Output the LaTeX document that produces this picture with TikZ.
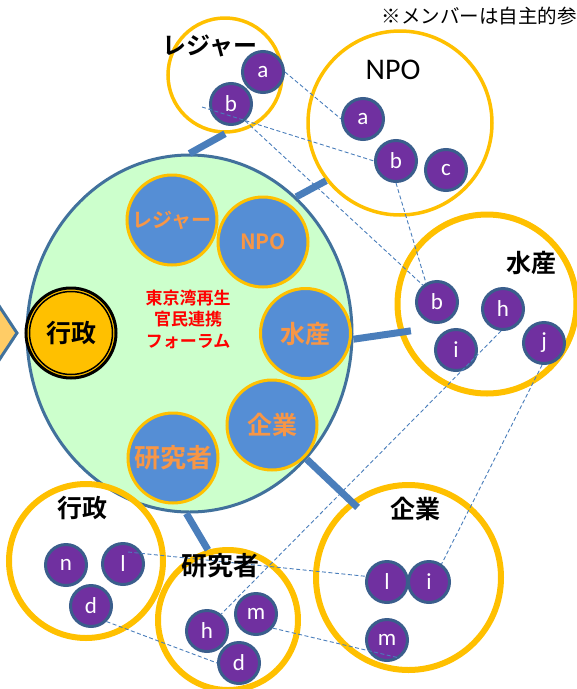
\documentclass[tikz,border=0pt]{standalone}
\usepackage{fontspec}
\setmainfont{Carlito}
\newfontfamily\jp{Noto Sans CJK JP}[BoldFont={Noto Sans CJK JP Bold}]
\usetikzlibrary{shapes.geometric}
\definecolor{ringc}{RGB}{255,192,0}
\definecolor{inblue}{RGB}{85,142,213}
\definecolor{inorange}{RGB}{247,150,70}
\definecolor{forumfill}{RGB}{204,255,204}
\definecolor{forumline}{RGB}{65,113,156}
\definecolor{barblue}{RGB}{74,126,187}
\definecolor{mempurple}{RGB}{112,48,160}
\definecolor{memline}{RGB}{58,94,140}
\definecolor{lightorange}{RGB}{255,204,102}
\tikzset{
  forum/.style={ellipse, draw=forumline, fill=forumfill, line width=3pt, minimum width=325pt, minimum height=357pt, inner sep=0pt},
  inner/.style={circle, draw=ringc, fill=inblue, line width=3pt, minimum size=90pt, inner sep=0pt, text=inorange, font=\jp\bfseries\fontsize{25}{25}\selectfont},
  thinring/.style={circle, draw=ringc, line width=3.5pt, inner sep=0pt},
  thickring/.style={circle, draw=ringc, line width=6pt, inner sep=0pt},
  member/.style={circle, draw=memline, fill=mempurple, line width=3pt, minimum size=41pt, inner sep=0pt, text=white, font=\fontsize{23}{23}\selectfont},
  grouplabel/.style={font=\jp\bfseries\fontsize{25}{25}\selectfont, inner sep=0pt},
  bar/.style={draw=barblue, line width=7pt},
  link/.style={draw=barblue, line width=0.9pt, dash pattern=on 4pt off 2.5pt}
}
\begin{document}
\begin{tikzpicture}[x=1pt,y=-1pt]
\useasboundingbox (0,0) rectangle (577,689);
% left arrow shape (partly outside)
\filldraw[fill=lightorange, draw=forumline, line width=3pt] (-30,262) -- (17,333) -- (-30,404) -- cycle;
% forum
\node[forum] (forum) at (189.5,333.5) {};
% group rings
\node[thinring, minimum size=114pt] (gLeis) at (225,75) {};
\node[thinring, minimum size=184pt] (gNPO) at (400,123) {};
\node[thickring, minimum size=179pt] (gSui) at (487,304) {};
\node[thickring, minimum size=185pt] (gKig) at (408.5,577.5) {};
\node[thickring, minimum size=154pt] (gGyo) at (86,561) {};
\node[thickring, minimum size=140pt] (gKen) at (228,620) {};
% bars
\draw[bar] (gLeis.270) -- (forum.90);
\draw[bar] (gNPO.218) -- (forum.52);
\draw[bar, shorten >=-12pt] (forum.-2) -- (gSui.198);
\draw[bar, shorten >=-9pt] (forum.-47.5) -- (gKig.127);
\draw[bar] (forum.-91) -- (gKen.106);
% inner circles
\node[inner, font=\jp\bfseries\fontsize{20}{20}\selectfont] (iLeis) at (172,220) {レジャー};
\node[inner, font=\jp\bfseries\fontsize{21}{21}\selectfont] (iNPO) at (263,242) {NPO};
\node[inner] (iSui) at (305.5,333.5) {水産};
\node[inner] (iKig) at (272,425) {企業};
\node[inner, font=\jp\bfseries\fontsize{26}{26}\selectfont] (iKen) at (173,458) {研究者};
% core
\node[circle, draw=black, fill=ringc, line width=3pt, minimum size=90pt, inner sep=0pt, font=\jp\bfseries\fontsize{25}{25}\selectfont] (core) at (71,333) {行政};
\draw[black, line width=1.5pt] (core.center) circle (41.5);
\node[align=center, text=red, font=\jp\bfseries\fontsize{17}{21.5}\selectfont] (title) at (188,319) {東京湾再生\\官民連携\\フォーラム};
% members
\node[member] (la) at (263,72) {a};
\node[member] (lb) at (231,104) {b};
\node[member] (na) at (363,119) {a};
\node[member] (nb) at (396,161) {b};
\node[member] (nc) at (446,170) {c};
\node[member] (sb) at (437,302) {b};
\node[member] (sh) at (503,309) {h};
\node[member] (si) at (456,350) {i};
\node[member] (sj) at (544,343) {j};
\node[member] (kl) at (387,582) {l};
\node[member] (ki) at (429,582) {i};
\node[member] (km) at (387,640) {m};
\node[member] (gn) at (66,565) {n};
\node[member] (gl) at (123,564) {l};
\node[member] (gd) at (91,606) {d};
\node[member] (rh) at (207,631) {h};
\node[member] (rm) at (256,614) {m};
\node[member] (rd) at (239,663) {d};
% dashed links
\coordinate (lbx) at (202,107);
\draw[link] (la.east) -- (na.west);
\draw[link] (lbx) -- (nb.west);
\draw[link] (lb.-50) -- (sb.130);
\draw[link] (nb.south) -- (sb.120);
\draw[link] (sh.-95) -- (rh.50);
\draw[link] (sj.-95) -- (ki.55);
\draw[link] ([shift={(5,-12)}]gl.center) -- (kl.165);
\draw[link] (gd.-45) -- (rd.west);
\draw[link] (rm.-40) -- (km.-55);
% group labels
\node[grouplabel, font=\jp\bfseries\fontsize{24}{24}\selectfont] (tLeis) at (210,46) {レジャー};
\node[inner sep=0pt, font=\fontsize{30}{30}\selectfont] (tNPO) at (393,70) {NPO};
\node[grouplabel] (tSui) at (531,263) {水産};
\node[grouplabel] (tKig) at (415,509) {企業};
\node[grouplabel] (tGyo) at (82,508) {行政};
\node[grouplabel, font=\jp\bfseries\fontsize{26}{26}\selectfont] (tKen) at (220,566) {研究者};
\node[anchor=east, inner sep=0pt, font=\jp\fontsize{19.5}{19.5}\selectfont] (note) at (577,16) {※メンバーは自主的参};
\end{tikzpicture}
\end{document}
